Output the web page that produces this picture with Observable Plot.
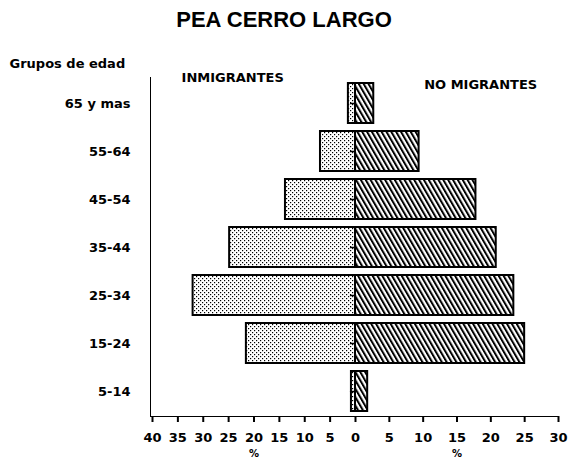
<!DOCTYPE html>
<html><head><meta charset="utf-8">
<script src="https://cdn.jsdelivr.net/npm/d3@7"></script>
<script src="https://cdn.jsdelivr.net/npm/@observablehq/plot@0.6"></script>
<style>
body{margin:0;background:#fff}
#title{height:44px;text-align:center;font:bold 22px "Liberation Sans",Arial,sans-serif;line-height:40px;color:#000;padding-right:4px}
#chart svg{display:block}
</style>
</head><body>
<div id="title">PEA CERRO LARGO</div>
<div id="chart"></div>
<script>
const ages = ["65 y mas", "55-64", "45-54", "35-44", "25-34", "15-24", "5-14"];
const inmigrantes = [1.4, 6.9, 13.8, 24.8, 32.0, 21.5, 0.8];
const noMigrantes = [2.7, 9.4, 17.8, 20.8, 23.4, 25.0, 1.8];
const xTicks = [-40, -35, -30, -25, -20, -15, -10, -5, 0, 5, 10, 15, 20, 25, 30];
const groupLabels = ["INMIGRANTES", "NO MIGRANTES"];
const yTitle = "Grupos de edad";
const unit = "%";

const left = ages.map((a, i) => ({age: a, x1: -inmigrantes[i], x2: 0}));
const right = ages.map((a, i) => ({age: a, x1: 0, x2: noMigrantes[i]}));

const chart = Plot.plot({
  width: 572, height: 417,
  marginTop: 33, marginBottom: 45, marginLeft: 150, marginRight: 14,
  style: {fontFamily: "'DejaVu Sans', sans-serif", fontWeight: "bold", fontSize: "13px", color: "#000", background: "#fff", overflow: "visible"},
  x: {type: "linear", domain: [-40, 0, 30], range: [152, 355, 558], ticks: xTicks, tickFormat: d => Math.abs(d), tickSize: 6, tickPadding: 10, line: true, label: null},
  y: {domain: ages, paddingInner: 0.17, paddingOuter: 0.1, tickSize: 0, tickPadding: 20, line: true, label: null},
  marks: [
    Plot.barX(left, {y: "age", x1: "x1", x2: "x2", fill: "url(#stipple)", stroke: "#000", strokeWidth: 2}),
    Plot.barX(right, {y: "age", x1: "x1", x2: "x2", fill: "url(#hatch)", stroke: "#000", strokeWidth: 2}),
    Plot.ruleY(ages, {y: d => d, x1: -1, x2: 0, stroke: "#000", strokeWidth: 1.5}),
    Plot.text([groupLabels[0]], {x: -24.2, frameAnchor: "top", dy: -5, text: d => d, fontSize: 13}),
    Plot.text([groupLabels[1]], {x: 18.5, frameAnchor: "top", dy: 2, text: d => d, fontSize: 13}),
    Plot.text([yTitle], {frameAnchor: "top-left", dx: -141, dy: -19, textAnchor: "start", text: d => d, fontSize: 13}),
    Plot.text([{x: -20}, {x: 15}], {x: "x", frameAnchor: "bottom", dy: 40, text: () => unit, fontSize: 10})
  ]
});

const defs = d3.select(chart).insert("defs", ":first-child");
const st = defs.append("pattern").attr("id", "stipple").attr("patternUnits", "userSpaceOnUse").attr("width", 4).attr("height", 4);
st.append("rect").attr("width", 4).attr("height", 4).attr("fill", "#fff");
st.append("rect").attr("x", 0).attr("y", 0).attr("width", 1.2).attr("height", 1.2).attr("fill", "#000");
st.append("rect").attr("x", 2).attr("y", 2).attr("width", 1.2).attr("height", 1.2).attr("fill", "#000");
const ht = defs.append("pattern").attr("id", "hatch").attr("patternUnits", "userSpaceOnUse").attr("width", 4.2).attr("height", 10).attr("patternTransform", "rotate(-30)");
ht.append("rect").attr("width", 4.2).attr("height", 10).attr("fill", "#fff");
ht.append("rect").attr("x", 0).attr("y", 0).attr("width", 2).attr("height", 10).attr("fill", "#000");

d3.select(chart).selectAll("[aria-label*='axis'] path, [aria-label*='axis'] line").attr("stroke-width", 2);
document.getElementById("chart").append(chart);
</script>
</body></html>
